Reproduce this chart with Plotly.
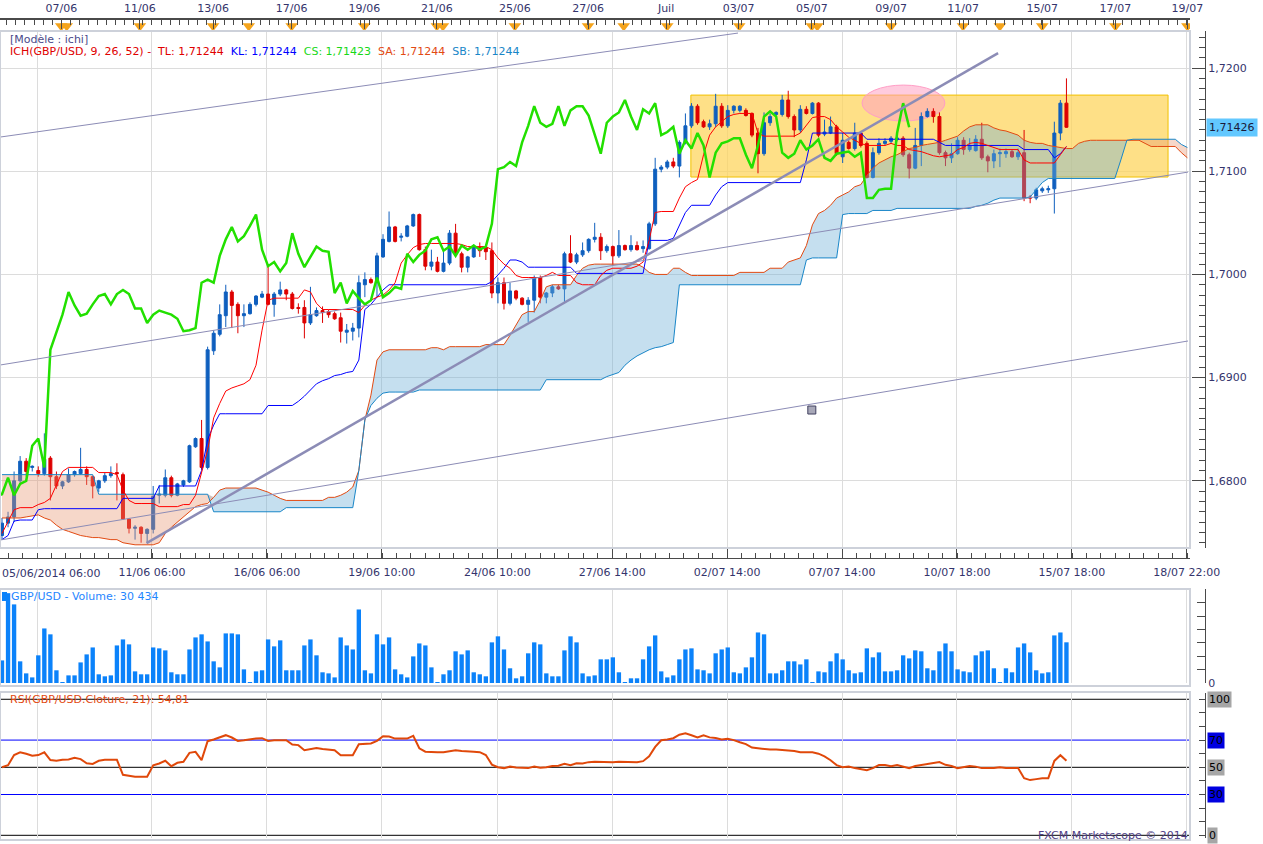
import numpy as np
import plotly.graph_objects as go

# ---------------- data (4h candles, GBP/USD) ----------------
OPEN = [1.6747,1.6759,1.6765,1.6800,1.6819,1.6813,1.6810,1.6807,1.6822,1.6804,
        1.6795,1.6799,1.6806,1.6807,1.6811,1.6804,1.6793,1.6800,1.6805,1.6808,
        1.6806,1.6763,1.6754,1.6755,1.6749,1.6753,1.6786,1.6786,1.6803,1.6786,
        1.6796,1.6799,1.6833,1.6841,1.6813,1.6926,1.6942,1.6960,1.6983,1.6971,
        1.6960,1.6962,1.6971,1.6978,1.6981,1.6971,1.6981,1.6985,1.6981,1.6968,
        1.6968,1.6953,1.6960,1.6965,1.6964,1.6962,1.6958,1.6944,1.6945,1.6948,
        1.6990,1.6995,1.6992,1.7017,1.7032,1.7046,1.7036,1.7037,1.7047,1.7058,
        1.7024,1.7008,1.7012,1.7003,1.7011,1.7040,1.7020,1.7007,1.7017,1.7026,
        1.7026,1.7023,1.6982,1.6992,1.6972,1.6984,1.6977,1.6971,1.6975,1.6997,
        1.6978,1.6982,1.6988,1.6986,1.7020,1.7012,1.7019,1.7023,1.7034,1.7036,
        1.7023,1.7027,1.7018,1.7028,1.7024,1.7028,1.7025,1.7025,1.7049,1.7102,
        1.7104,1.7109,1.7105,1.7128,1.7144,1.7163,1.7148,1.7143,1.7146,1.7163,
        1.7144,1.7159,1.7159,1.7159,1.7156,1.7137,1.7117,1.7147,1.7155,1.7155,
        1.7169,1.7153,1.7140,1.7160,1.7156,1.7166,1.7136,1.7137,1.7143,1.7114,
        1.7128,1.7122,1.7137,1.7127,1.7094,1.7118,1.7127,1.7129,1.7131,1.7132,
        1.7116,1.7103,1.7125,1.7153,1.7158,1.7153,1.7118,1.7113,1.7117,1.7130,
        1.7121,1.7120,1.7131,1.7114,1.7110,1.7117,1.7117,1.7119,1.7114,1.7118,
        1.7075,1.7074,1.7081,1.7082,1.7083,1.7137,1.7166]
HIGH = [1.6764,1.6770,1.6809,1.6824,1.6822,1.6815,1.6814,1.6846,1.6824,1.6809,
        1.6800,1.6812,1.6810,1.6832,1.6814,1.6805,1.6801,1.6808,1.6814,1.6817,
        1.6808,1.6764,1.6757,1.6756,1.6754,1.6795,1.6796,1.6811,1.6805,1.6798,
        1.6801,1.6835,1.6842,1.6859,1.6930,1.6946,1.6971,1.6990,1.6985,1.6973,
        1.6971,1.6973,1.6980,1.6984,1.7008,1.6983,1.6993,1.6986,1.6983,1.6972,
        1.6975,1.6988,1.6968,1.6969,1.6966,1.6964,1.6963,1.6952,1.6953,1.6999,
        1.7002,1.6997,1.7021,1.7039,1.7061,1.7047,1.7040,1.7048,1.7059,1.7059,
        1.7027,1.7024,1.7017,1.7022,1.7043,1.7049,1.7022,1.7018,1.7029,1.7031,
        1.7029,1.7031,1.6997,1.6997,1.6992,1.6985,1.6978,1.6978,1.6999,1.6999,
        1.6983,1.6990,1.6990,1.7022,1.7038,1.7021,1.7031,1.7035,1.7050,1.7040,
        1.7029,1.7028,1.7043,1.7029,1.7038,1.7032,1.7033,1.7051,1.7113,1.7106,
        1.7111,1.7113,1.7130,1.7156,1.7166,1.7165,1.7150,1.7150,1.7175,1.7166,
        1.7164,1.7164,1.7164,1.7161,1.7157,1.7142,1.7157,1.7156,1.7158,1.7174,
        1.7178,1.7155,1.7164,1.7163,1.7167,1.7167,1.7150,1.7153,1.7145,1.7137,
        1.7130,1.7147,1.7139,1.7129,1.7123,1.7132,1.7132,1.7134,1.7135,1.7134,
        1.7118,1.7142,1.7157,1.7161,1.7161,1.7157,1.7120,1.7127,1.7133,1.7133,
        1.7132,1.7135,1.7147,1.7116,1.7121,1.7122,1.7122,1.7121,1.7122,1.7140,
        1.7077,1.7084,1.7085,1.7086,1.7148,1.7169,1.7190]
LOW = [1.6743,1.6755,1.6760,1.6796,1.6804,1.6809,1.6804,1.6805,1.6781,1.6792,
       1.6792,1.6798,1.6804,1.6806,1.6796,1.6783,1.6789,1.6798,1.6803,1.6781,
       1.6762,1.6749,1.6743,1.6740,1.6740,1.6749,1.6778,1.6784,1.6784,1.6785,
       1.6794,1.6798,1.6832,1.6811,1.6811,1.6922,1.6940,1.6949,1.6948,1.6943,
       1.6949,1.6961,1.6969,1.6977,1.6970,1.6959,1.6979,1.6975,1.6966,1.6962,
       1.6938,1.6951,1.6959,1.6953,1.6958,1.6956,1.6934,1.6933,1.6936,1.6939,
       1.6978,1.6991,1.6978,1.7016,1.7031,1.7031,1.7032,1.7036,1.7046,1.7023,
       1.7004,1.7004,1.7002,1.7002,1.7009,1.7019,1.7002,1.7002,1.7016,1.7017,
       1.7014,1.6977,1.6972,1.6966,1.6970,1.6975,1.6970,1.6954,1.6963,1.6972,
       1.6972,1.6978,1.6985,1.6973,1.7011,1.7010,1.7017,1.7021,1.7031,1.7014,
       1.7021,1.7009,1.7016,1.7023,1.7022,1.7023,1.7021,1.7024,1.7047,1.7099,
       1.7102,1.7103,1.7094,1.7126,1.7142,1.7145,1.7142,1.7140,1.7143,1.7142,
       1.7142,1.7156,1.7157,1.7153,1.7133,1.7098,1.7115,1.7144,1.7153,1.7153,
       1.7151,1.7133,1.7137,1.7155,1.7155,1.7133,1.7134,1.7136,1.7115,1.7108,
       1.7121,1.7120,1.7123,1.7093,1.7093,1.7116,1.7125,1.7127,1.7129,1.7114,
       1.7093,1.7102,1.7105,1.7152,1.7147,1.7116,1.7105,1.7108,1.7116,1.7116,
       1.7119,1.7119,1.7111,1.7099,1.7103,1.7104,1.7113,1.7113,1.7111,1.7071,
       1.7069,1.7072,1.7079,1.7079,1.7059,1.7130,1.7142]
CLOSE = [1.6759,1.6765,1.6800,1.6819,1.6809,1.6814,1.6807,1.6821,1.6804,1.6795,
         1.6799,1.6806,1.6809,1.6811,1.6804,1.6795,1.6800,1.6805,1.6807,1.6807,
         1.6763,1.6754,1.6755,1.6749,1.6753,1.6785,1.6787,1.6803,1.6786,1.6797,
         1.6800,1.6834,1.6841,1.6813,1.6927,1.6943,1.6961,1.6983,1.6970,1.6960,
         1.6962,1.6971,1.6979,1.6981,1.6971,1.6981,1.6985,1.6981,1.6967,1.6967,
         1.6953,1.6961,1.6965,1.6963,1.6961,1.6957,1.6945,1.6946,1.6948,1.6992,
         1.6995,1.6992,1.7018,1.7034,1.7046,1.7032,1.7037,1.7047,1.7058,1.7024,
         1.7008,1.7012,1.7003,1.7011,1.7040,1.7020,1.7007,1.7017,1.7027,1.7023,
         1.7022,1.6982,1.6992,1.6972,1.6984,1.6977,1.6971,1.6975,1.6997,1.6978,
         1.6982,1.6988,1.6986,1.7020,1.7012,1.7019,1.7023,1.7034,1.7036,1.7023,
         1.7027,1.7018,1.7028,1.7024,1.7028,1.7024,1.7027,1.7049,1.7102,1.7104,
         1.7109,1.7105,1.7128,1.7144,1.7163,1.7147,1.7143,1.7146,1.7163,1.7144,
         1.7159,1.7163,1.7163,1.7154,1.7135,1.7117,1.7147,1.7153,1.7157,1.7169,
         1.7153,1.7140,1.7160,1.7156,1.7166,1.7135,1.7138,1.7143,1.7117,1.7130,
         1.7122,1.7137,1.7125,1.7094,1.7118,1.7127,1.7129,1.7132,1.7132,1.7116,
         1.7103,1.7125,1.7153,1.7158,1.7153,1.7118,1.7113,1.7117,1.7130,1.7121,
         1.7125,1.7131,1.7113,1.7110,1.7117,1.7118,1.7119,1.7114,1.7118,1.7074,
         1.7074,1.7082,1.7083,1.7083,1.7137,1.7166,1.71426]

VOLUME = [16900,67200,58800,16200,7200,4200,20700,40800,36400,9500,
          500,5700,5700,15400,21400,26600,6500,5000,5700,28100,
          32600,28900,8700,6500,6500,26600,25900,24400,8000,6500,
          6500,25100,34100,36400,31100,16200,11700,37100,37100,36400,
          10200,700,8700,9500,32600,27400,31900,9500,9500,9500,
          28100,32600,20700,8000,7200,4200,34100,28100,25100,55000,
          9500,7200,36400,28900,34100,10200,6500,4200,19900,29600,
          28100,11700,700,6500,9500,23700,21400,24400,8000,6500,
          5000,30400,34900,25100,11000,3500,5000,22200,30400,28900,
          7200,5000,5000,24400,34900,30400,7200,5000,5700,17700,
          17700,19200,8000,500,3500,3500,17700,27400,35600,8700,
          4200,5700,17700,25100,25900,10200,9500,7200,22200,25100,
          26600,8000,7200,11700,19200,37800,36400,7200,7200,9500,
          16200,16200,13900,17700,500,8700,8000,16200,22200,17700,
          9500,7200,8000,25900,19200,22900,8700,8700,9500,20700,
          18400,24400,23700,11000,9500,23700,29600,23700,10200,8700,
          8000,20700,23700,24400,11000,500,11000,8000,26600,29600,
          22900,9500,7200,8000,35600,37800,30434]

# Ichimoku lines (TL = tenkan, KL = kijun, SA/SB = senkou spans)
TL = ([1.6749, 1.6760, 1.6772] + [1.6774]*3 + [1.6777, 1.6779, 1.6783, 1.6796, 1.6809]
      + [1.6813]*5 + [1.6808]*3 + [1.6806, 1.6791, 1.6781] + [1.6778]*4 + [1.6775]*4
      + [1.6777]*2
      + [1.6786, 1.6808, 1.6830, 1.6861, 1.6875, 1.6887, 1.6890, 1.6892, 1.6894, 1.6898,
         1.6912, 1.6946, 1.6975]
      + [1.6977]*5 + [1.6985, 1.6983, 1.6972] + [1.6966]*6
      + [1.6963, 1.6970, 1.6975, 1.6978, 1.6980, 1.6985, 1.6992, 1.7011, 1.7019, 1.7026, 1.7029]
      + [1.7030]*6 + [1.7029] + [1.7027]*4 + [1.7024, 1.7016, 1.7010, 1.7006, 1.6999]
      + [1.6997]*4 + [1.6999, 1.7002] + [1.6999]*3 + [1.6992] + [1.6990]*3
      + [1.6999, 1.7004] + [1.7006]*4
      + [1.7008, 1.7012, 1.7033, 1.7060, 1.7061, 1.7061, 1.7061, 1.7074, 1.7085, 1.7089,
         1.7092, 1.7116, 1.7135, 1.7143, 1.7148, 1.7153, 1.7155]
      + [1.7156]*3 + [1.7137] + [1.7134]*6 + [1.7137, 1.7145, 1.7152] + [1.7153]*2
      + [1.7150, 1.7143, 1.7138, 1.7133, 1.7130, 1.7127] + [1.7125]*4 + [1.7127] + [1.7125]*2
      + [1.7121, 1.7120, 1.7119, 1.7117, 1.7115, 1.7114, 1.7115, 1.7116, 1.7121, 1.7123,
         1.7127, 1.7128, 1.7127, 1.7125, 1.7123]
      + [1.7121]*4 + [1.7111] + [1.7108]*5 + [1.7116, 1.7124])
KL = ([1.6743, 1.6747, 1.6761] + [1.6762]*3 + [1.6772] + [1.6773]*13 + [1.6783]*6
      + [1.6795]*7 + [1.6810, 1.6840, 1.6854] + [1.6865]*8 + [1.6873]*5
      + [1.6877, 1.6882, 1.6888, 1.6894, 1.6897, 1.6899, 1.6902, 1.6903, 1.6905, 1.6906,
         1.6917, 1.6966, 1.6971, 1.6978, 1.6985]
      + [1.6990]*17 + [1.6993, 1.6999, 1.7006] + [1.7014]*2 + [1.7012] + [1.7007]*8
      + [1.7001]*12 + [1.7033]*4 + [1.7035, 1.7048, 1.7060] + [1.7067]*4 + [1.7077, 1.7085]
      + [1.7089]*13 + [1.7111] + [1.7137]*9 + [1.7131]*12 + [1.7128] + [1.7125]*13
      + [1.7121]*5 + [1.7113, 1.7117, 1.7124])
SA = ([1.6764]*4 + [1.6765, 1.6766, 1.6767, 1.6764, 1.6762, 1.6757, 1.6753, 1.6751, 1.6749,
                    1.6747, 1.6746]
      + [1.6745]*2 + [1.6744] + [1.6743]*2 + [1.6740, 1.6739] + [1.6738]*4
      + [1.6740, 1.6749, 1.6755, 1.6760, 1.6765, 1.6770, 1.6775, 1.6777, 1.6778, 1.6784, 1.6791]
      + [1.6793]*6 + [1.6791, 1.6789, 1.6786, 1.6783] + [1.6781]*7 + [1.6784]*2
      + [1.6786, 1.6789, 1.6794, 1.6810, 1.6859, 1.6883, 1.6917, 1.6925]
      + [1.6927]*7 + [1.6929]*2 + [1.6927] + [1.6930]*6 + [1.6932]*4 + [1.6941, 1.6951, 1.6961]
      + [1.6964]*2 + [1.6975, 1.6988] + [1.6990]*4 + [1.6999, 1.7006, 1.7009] + [1.7010]*8
      + [1.7007, 1.7002] + [1.7000]*3 + [1.7006]*2 + [1.7002] + [1.6999]*8 + [1.7002]*5
      + [1.7006]*3
      + [1.7012, 1.7014, 1.7016, 1.7028, 1.7048, 1.7059, 1.7062, 1.7067, 1.7074, 1.7077,
         1.7080, 1.7085, 1.7087, 1.7096, 1.7103, 1.7108, 1.7111, 1.7114, 1.7116, 1.7119,
         1.7122, 1.7123, 1.7125, 1.7126, 1.7127, 1.7128, 1.7130, 1.7132, 1.7134, 1.7139, 1.7143]
      + [1.7145]*3 + [1.7142, 1.7140, 1.7139, 1.7137, 1.7135, 1.7130, 1.7128] + [1.7127]*2
      + [1.7125, 1.7124, 1.7123] + [1.7122]*2 + [1.7127, 1.7129] + [1.7130]*9 + [1.7127]
      + [1.7124]*5 + [1.7118, 1.7113])
SB = ([1.6806]*16 + [1.6787]*19 + [1.6770]*12 + [1.6774]*12
      + [1.6810, 1.6859, 1.6873, 1.6880, 1.6885] + [1.6886]*5 + [1.6888]*21 + [1.6898]*10
      + [1.6901, 1.6903, 1.6905, 1.6912, 1.6917, 1.6921, 1.6924, 1.6927, 1.6929, 1.6930,
         1.6932, 1.6934]
      + [1.6990]*21 + [1.7014] + [1.7016]*5 + [1.7058] + [1.7059]*4 + [1.7062]*4
      + [1.7064]*13 + [1.7066, 1.7067, 1.7069, 1.7072] + [1.7074]*5 + [1.7075, 1.7082, 1.7089]
      + [1.7093]*12 + [1.7111, 1.7130] + [1.7131]*8 + [1.7126, 1.7123])
CS_SHIFT = 26  # chikou span = close plotted 26 bars back

RSI = [50, 51.5, 59, 61, 60, 58.5, 59, 61, 55.3, 54.8, 55.5, 55.8, 57, 56, 53, 52.5, 54.8,
       55.5, 55.5, 55.5, 44.5, 43.5, 43, 43, 43, 51.5, 52.8, 54.8, 50.8, 53.3, 54, 60.6, 61.4,
       55.3, 69.2, 70.4, 71.9, 73.6, 71.9, 69.4, 69.9, 70.7, 71.1, 71.4, 69.4, 69.9, 69.9, 69.9,
       66.7, 66.3, 62.6, 63.3, 64.1, 63.5, 63, 62.6, 58.9, 58.9, 58.9, 67, 67.3, 67.5, 69.4,
       72.9, 72.6, 71.1, 71.1, 71.1, 73.1, 64.0,
       61.5, 61, 61, 61.1, 62, 62.6, 62, 61.5, 61.5, 61.1,
       59, 52, 50.1, 49.4, 50.5, 49.8, 49.4, 49.4, 50.5, 49.6,
       50, 51, 51.2, 52.5, 51.6, 53, 52.8, 53.8, 54, 53.8,
       54, 53.8, 54, 53.8, 54, 53.8, 54.5, 58, 65, 69.9,
       70.5, 71.4, 74, 75, 73.6, 72, 73.6, 72, 71.5, 70.5,
       71, 70, 68.4, 67, 64.5, 64, 63, 63, 63, 62.6,
       62.6, 62, 61.1, 61.1, 61, 60, 58, 55.2, 51.6, 50.1,
       50.5, 49.4, 48.5, 47.9, 49.4, 51.6, 51.6, 50.8, 51.6, 50.5,
       49.4, 51, 51.6, 52.5, 53, 53.8, 51.8, 51, 49.4, 50,
       51, 50.5, 49.4, 49.4, 49.4, 50.1, 49.4, 49.4, 49.4, 42,
       40.6, 41.3, 42, 42, 54.7, 58.9, 54.81]
RSI_LEVELS = [100, 70, 50, 30, 0]
RSI_LEVEL_COLORS = ["#000000", "#0000ff", "#000000", "#0000ff", "#000000"]
RSI_LABEL_BG = ["#a6a6a6", "#0000e0", "#a6a6a6", "#0000e0", "#a6a6a6"]

# hand-drawn objects (bar index, price)
TREND_X = [[-0.33, 121.7], [23.9, 164.7], [-0.33, 196.1], [-0.33, 196.1]]
TREND_Y = [[1.71331, 1.72339], [1.67397, 1.72145], [1.69122, 1.70992], [1.67426, 1.69355]]
TREND_W = [1, 2.5, 1, 1]
BOX = dict(x0=113.9, x1=192.8, y0=1.70944, y1=1.71738)
ELLIPSE = dict(x0=142.2, x1=155.9, y0=1.71487, y1=1.71835)
MARK = dict(x=133.9, y=1.68686)
LAST_PRICE = 1.71426

# axis labels
BOTTOM_TICK_POS = [5.8, 24.8, 43.8, 62.8, 81.9, 100.9, 119.9, 138.9, 157.9, 176.9, 195.9]
BOTTOM_TICK_TEXT = ["", "11/06 06:00", "16/06 06:00", "19/06 10:00", "24/06 10:00",
                    "27/06 14:00", "02/07 14:00", "07/07 14:00", "10/07 18:00",
                    "15/07 18:00", "18/07 22:00"]
FIRST_LABEL = "05/06/2014 06:00"
TOP_TICK_POS = [9.8, 22.8, 34.9, 47.9, 59.9, 71.9, 84.8, 96.9, 109.8, 121.8, 133.9,
                147.0, 158.9, 172.0, 184.1, 196.0]
TOP_TICK_TEXT = ["07/06", "11/06", "13/06", "17/06", "19/06", "21/06", "25/06", "27/06",
                 "Juil", "03/07", "05/07", "09/07", "11/07", "15/07", "17/07", "19/07"]
EVENT_POS = [9.8, 10.7, 22.8, 34.9, 40.8, 47.9, 59.9, 71.9, 72.9, 84.8, 96.9, 102.8,
             110.0, 121.9, 133.9, 134.8, 147.0, 158.9, 165.0, 172.0, 184.1, 196.0]

# ---------------- geometry helpers ----------------
W, H = 1263, 844          # target picture size (positions below are in these pixels)
H_LAYOUT = 851            # page is photographed slightly squeezed vertically
PW = 1205                 # paper width (right margin holds the labels)


def pxx(p):
    return p / PW


def pxy(p):
    return 1 - p / H


XR = [-0.33, 196.43]
XDOM = [0, pxx(1190)]
FONT = "DejaVu Sans"
AX_TXT = "#34346c"
BLUE = "#0f5fbe"
RED = "#dd0000"

fig = go.Figure()
idx = np.arange(len(CLOSE))

fig.add_trace(go.Candlestick(
    x=idx, open=OPEN, high=HIGH, low=LOW, close=CLOSE, xaxis="x", yaxis="y",
    increasing=dict(line=dict(color=BLUE, width=1), fillcolor=BLUE),
    decreasing=dict(line=dict(color=RED, width=1), fillcolor=RED),
    whiskerwidth=0, hoverinfo="skip", showlegend=False))

sa = np.array(SA)
sb = np.array(SB)
xc = np.arange(len(SA))
top = np.maximum(sa, sb)
fig.add_trace(go.Scatter(x=xc, y=sb, mode="lines", line=dict(width=0), hoverinfo="skip",
                         showlegend=False))
fig.add_trace(go.Scatter(x=xc, y=top, mode="lines", line=dict(width=0), fill="tonexty",
                         fillcolor="rgba(110,175,215,0.40)", hoverinfo="skip", showlegend=False))
fig.add_trace(go.Scatter(x=xc, y=sa, mode="lines", line=dict(width=0), hoverinfo="skip",
                         showlegend=False))
fig.add_trace(go.Scatter(x=xc, y=top, mode="lines", line=dict(width=0), fill="tonexty",
                         fillcolor="rgba(232,150,112,0.38)", hoverinfo="skip", showlegend=False))

for ser, col, wdt in [(SA, "#e24a12", 1), (SB, "#1986c8", 1), (KL, "#0000ff", 1),
                      (TL, "#ff0000", 1)]:
    fig.add_trace(go.Scatter(x=np.arange(len(ser)), y=ser, mode="lines",
                             line=dict(color=col, width=wdt), hoverinfo="skip",
                             showlegend=False))
fig.add_trace(go.Scatter(x=idx - CS_SHIFT, y=CLOSE, mode="lines",
                         line=dict(color="#22e000", width=2.5), hoverinfo="skip",
                         showlegend=False))

for tx, ty, tw in zip(TREND_X, TREND_Y, TREND_W):
    fig.add_trace(go.Scatter(x=tx, y=ty, mode="lines", line=dict(color="#8c8cb6", width=tw),
                             hoverinfo="skip", showlegend=False))
fig.add_trace(go.Scatter(x=[MARK["x"]], y=[MARK["y"]], mode="markers",
                         marker=dict(symbol="square", size=8, color="#a8a8b8",
                                     line=dict(color="#404060", width=1)),
                         hoverinfo="skip", showlegend=False))

# volume
fig.add_trace(go.Bar(x=idx, y=VOLUME, xaxis="x2", yaxis="y2", width=0.72,
                     marker=dict(color="#0b82fa", line=dict(width=0)),
                     hoverinfo="skip", showlegend=False))
# RSI
fig.add_trace(go.Scatter(x=idx, y=RSI, xaxis="x3", yaxis="y3", mode="lines",
                         line=dict(color="#e0480a", width=2), hoverinfo="skip",
                         showlegend=False))
# event markers on the top ruler
fig.add_trace(go.Scatter(x=EVENT_POS, y=[0.45]*len(EVENT_POS), xaxis="x4", yaxis="y4",
                         mode="markers",
                         marker=dict(symbol="triangle-down", size=11, color="#f5a41c",
                                     line=dict(width=0)),
                         hoverinfo="skip", showlegend=False))

grid = "#dcdcdc"
axline = "#4a4a4a"
tickfont = dict(family=FONT, size=11, color=AX_TXT)

minor_bottom = np.arange(BOTTOM_TICK_POS[0] - 2.3767 * 2, XR[1], 2.3767)
minor_top = np.arange(TOP_TICK_POS[0] - 1.5 * 6, XR[1], 1.5)

fig.update_layout(
    width=W, height=H_LAYOUT, autosize=False,
    margin=dict(l=0, r=W - PW, t=0, b=0),
    paper_bgcolor="white", plot_bgcolor="white",
    separators=", ",
    showlegend=False,
    hovermode=False,
    font=dict(family=FONT, size=11, color=AX_TXT),
    xaxis=dict(domain=XDOM, range=XR, anchor="free", position=pxy(558),
               rangeslider=dict(visible=False),
               tickmode="array", tickvals=BOTTOM_TICK_POS, ticktext=BOTTOM_TICK_TEXT,
               ticks="inside", ticklen=11, tickcolor=axline, tickwidth=1,
               ticklabelstandoff=4,
               minor=dict(tickmode="array", tickvals=minor_bottom, ticks="inside",
                          ticklen=5, tickcolor=axline, showgrid=False),
               showline=True, linecolor=axline, linewidth=1,
               showgrid=True, gridcolor=grid, gridwidth=1, zeroline=False,
               tickfont=tickfont, fixedrange=True),
    yaxis=dict(domain=[pxy(548), pxy(31)], range=[1.67349, 1.72359],
               anchor="free", position=1, side="right",
               tickmode="linear", tick0=1.68, dtick=0.01, tickformat=".4f",
               ticks="inside", ticklen=13, tickcolor=axline,
               minor=dict(dtick=0.001, tick0=1.68, ticks="inside", ticklen=6,
                          tickcolor=axline, showgrid=False),
               showline=True, linecolor=axline, linewidth=1,
               showgrid=True, gridcolor=grid, zeroline=False, tickfont=tickfont),
    xaxis2=dict(domain=XDOM, range=XR, anchor="y2", matches="x",
                tickmode="array", tickvals=BOTTOM_TICK_POS, showticklabels=False, ticks="",
                showgrid=True, gridcolor=grid, zeroline=False, showline=False),
    yaxis2=dict(domain=[pxy(683), pxy(589)], range=[0, 70312], anchor="free", position=1,
                side="right", tickmode="array", tickvals=list(range(0, 70001, 10000)),
                ticktext=["0"] + [""] * 7, ticks="inside", ticklen=8, tickcolor=axline,
                showline=True, linecolor=axline, showgrid=False, zeroline=False,
                tickfont=tickfont),
    xaxis3=dict(domain=XDOM, range=XR, anchor="y3", matches="x",
                tickmode="array", tickvals=BOTTOM_TICK_POS, showticklabels=False, ticks="",
                showgrid=True, gridcolor=grid, zeroline=False, showline=False),
    yaxis3=dict(domain=[pxy(838), pxy(693)], range=[-1.98, 104.62], anchor="free",
                position=1, side="right", tickmode="array",
                tickvals=list(range(0, 101, 10)), ticktext=[""] * 11,
                ticks="inside", ticklen=6, tickcolor=axline,
                showline=True, linecolor=axline, showgrid=False, zeroline=False),
    xaxis4=dict(domain=XDOM, range=XR, anchor="y4", side="top", matches="x",
                tickmode="array", tickvals=TOP_TICK_POS, ticktext=TOP_TICK_TEXT,
                ticks="inside", ticklen=9, tickcolor=axline, ticklabelstandoff=2,
                minor=dict(tickmode="array", tickvals=minor_top, ticks="inside",
                           ticklen=5, tickcolor=axline, showgrid=False),
                showline=True, linecolor=axline, linewidth=1.5,
                showgrid=False, zeroline=False, tickfont=tickfont),
    yaxis4=dict(domain=[pxy(31), pxy(20)], range=[0, 1], visible=False, fixedrange=True),
)

shapes = []
# yellow box and ellipse (drawn between grid and traces)
shapes.append(dict(type="rect", xref="x", yref="y", layer="between", **BOX,
                   fillcolor="rgba(253,214,95,0.75)", line=dict(color="#f2c200", width=1)))
shapes.append(dict(type="circle", xref="x", yref="y", layer="between", **ELLIPSE,
                   fillcolor="rgba(255,160,195,0.55)", line=dict(color="#ff9ec6", width=1)))
# RSI level lines
for lv, col in zip(RSI_LEVELS, RSI_LEVEL_COLORS):
    shapes.append(dict(type="line", xref="paper", yref="y3", x0=0, x1=XDOM[1], y0=lv, y1=lv,
                       line=dict(color=col, width=1), layer="between"))
# panel borders
for (t, b) in [(31, 548), (589, 686), (692, 840)]:
    shapes.append(dict(type="rect", xref="paper", yref="paper", x0=0, x1=XDOM[1],
                       y0=pxy(b), y1=pxy(t), line=dict(color="#cdd1da", width=2),
                       fillcolor="rgba(0,0,0,0)", layer="above"))
# small blue square before the volume title
shapes.append(dict(type="rect", xref="paper", yref="paper", x0=pxx(2), x1=pxx(7),
                   y0=pxy(601), y1=pxy(592), fillcolor="#0b82fa", line=dict(width=0)))
fig.update_layout(shapes=shapes)

nb = "\u00a0"
legend_line = (
    f'<span style="color:#e00000">ICH(GBP/USD, 9, 26, 52) -{nb}{nb}TL: 1,71244</span>{nb}{nb}'
    f'<span style="color:#0000ff">KL: 1,71244</span>{nb}{nb}'
    f'<span style="color:#18d818">CS: 1,71423</span>{nb}{nb}'
    f'<span style="color:#e24a12">SA: 1,71244</span>{nb}{nb}'
    f'<span style="color:#1986c8">SB: 1,71244</span>'
)
ann = [
    dict(text="[Modèle : ichi]", x=pxx(8), y=pxy(39), font=dict(color="#4a4a8a")),
    dict(text=legend_line, x=pxx(8), y=pxy(51)),
    dict(text="GBP/USD - Volume: 30 434", x=pxx(9), y=pxy(596), font=dict(color="#1f86ff")),
    dict(text="RSI(GBP/USD.Cloture, 21): 54,81", x=pxx(8), y=pxy(699),
         font=dict(color="#e24a12")),
    dict(text=FIRST_LABEL, x=0, y=pxy(573), font=dict(color=AX_TXT)),
]
for a in ann:
    a.update(xref="paper", yref="paper", xanchor="left", yanchor="middle", showarrow=False)
    a.setdefault("font", {})
    a["font"].setdefault("family", FONT)
    a["font"].setdefault("size", 11)
fig.add_annotation(text="FXCM Marketscope © 2014", xref="paper", yref="paper",
                   x=pxx(1190), y=pxy(835), xanchor="right", yanchor="middle",
                   showarrow=False, font=dict(family=FONT, size=11, color="#4f3f86"))
for a in ann:
    fig.add_annotation(**a)
fig.add_annotation(text="1,71426", xref="paper", yref="y", x=1, y=LAST_PRICE,
                   xanchor="left", yanchor="middle", xshift=1, showarrow=False,
                   bgcolor="#62c8ff", borderpad=2,
                   font=dict(family=FONT, size=11, color="#1a1a3a"))
for lv, bg in zip(RSI_LEVELS, RSI_LABEL_BG):
    fig.add_annotation(text=str(lv), xref="paper", yref="y3", x=1, y=lv,
                       xanchor="left", yanchor="middle", xshift=2, showarrow=False,
                       bgcolor=bg, borderpad=1,
                       font=dict(family=FONT, size=11, color="#000000"))

PAGE_CSS = (
    "var d=document.documentElement,b=document.body;"
    "d.style.margin='0';d.style.padding='0';d.style.overflow='hidden';"
    "b.style.margin='0';b.style.padding='0';b.style.overflow='hidden';"
)
fig.write_html("out.html",
               config={"responsive": False, "displayModeBar": False},
               post_script=PAGE_CSS)
